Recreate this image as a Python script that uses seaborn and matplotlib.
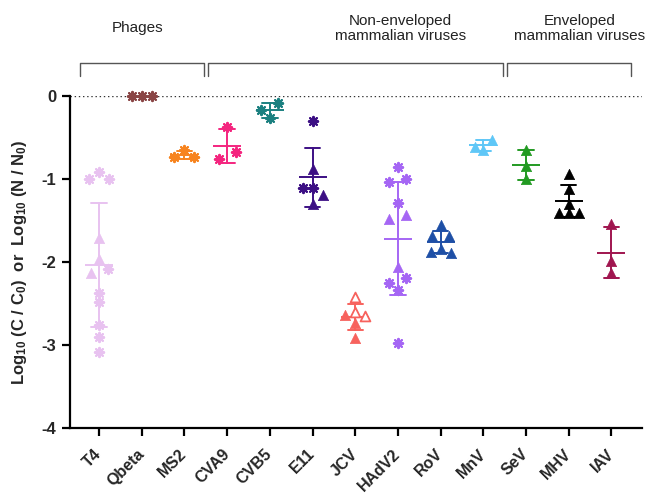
import numpy as np
import pandas as pd
import matplotlib
matplotlib.use('Agg')
import matplotlib.pyplot as plt
import seaborn as sns

viruses = ['T4', 'Qbeta', 'MS2', 'CVA9', 'CVB5', 'E11', 'JCV', 'HAdV2',
           'RoV', 'MnV', 'SeV', 'MHV', 'IAV']
colors = ['#E8C2F0', '#8A4646', '#F7841F', '#F4257F', '#1B8080', '#3C0F84',
          '#F7625D', '#A566F4', '#1E4FA6', '#5FC7F7', '#229A22', '#000000',
          '#A0154F']

# log reduction per replicate
# kind: a = asterisk, t = filled triangle, o = open triangle
t4_vals = [-0.92, -1.01, -1.01, -1.71, -1.97, -2.09, -2.14, -2.38, -2.49, -2.76, -2.91, -3.08]
t4_kind = ['a', 'a', 'a', 't', 't', 'a', 't', 'a', 'a', 'a', 'a', 'a']
qbeta_vals = [-0.01, -0.01, -0.01]
qbeta_kind = ['a', 'a', 'a']
ms2_vals = [-0.66, -0.74, -0.74]
ms2_kind = ['a', 'a', 'a']
cva9_vals = [-0.38, -0.68, -0.76]
cva9_kind = ['a', 'a', 'a']
cvb5_vals = [-0.09, -0.17, -0.27]
cvb5_kind = ['a', 'a', 'a']
e11_vals = [-0.31, -0.88, -1.11, -1.11, -1.20, -1.30]
e11_kind = ['a', 't', 'a', 'a', 't', 't']
jcv_vals = [-2.43, -2.61, -2.64, -2.65, -2.74, -2.92]
jcv_kind = ['o', 'o', 't', 'o', 't', 't']
hadv2_vals = [-0.86, -1.01, -1.04, -1.29, -1.44, -1.48, -2.06, -2.20, -2.25, -2.34, -2.98]
hadv2_kind = ['a', 'a', 'a', 'a', 't', 't', 't', 'a', 'a', 'a', 'a']
rov_vals = [-1.56, -1.69, -1.69, -1.85, -1.88, -1.90]
rov_kind = ['t'] * 6
mnv_vals = [-0.53, -0.62, -0.65]
mnv_kind = ['t'] * 3
sev_vals = [-0.65, -0.85, -1.01]
sev_kind = ['t'] * 3
mhv_vals = [-0.95, -1.12, -1.30, -1.41, -1.41, -1.41]
mhv_kind = ['t'] * 6
iav_vals = [-1.55, -1.99, -2.13]
iav_kind = ['t'] * 3

all_vals = [t4_vals, qbeta_vals, ms2_vals, cva9_vals, cvb5_vals, e11_vals, jcv_vals,
            hadv2_vals, rov_vals, mnv_vals, sev_vals, mhv_vals, iav_vals]
all_kind = [t4_kind, qbeta_kind, ms2_kind, cva9_kind, cvb5_kind, e11_kind, jcv_kind,
            hadv2_kind, rov_kind, mnv_kind, sev_kind, mhv_kind, iav_kind]

groups = ['Phages', 'Non-enveloped\nmammalian viruses', 'Enveloped\nmammalian viruses']
group_first = ['T4', 'CVA9', 'SeV']
group_last = ['MS2', 'MnV', 'IAV']


def row_offsets(vals, tol=0.1, step=0.234):
    """GraphPad-like scatter: points closer than tol share a row, rows are centred"""
    order = np.argsort(vals)[::-1]
    offs = np.zeros(len(vals))
    rows, cur = [], [order[0]]
    for i in order[1:]:
        if vals[cur[0]] - vals[i] < tol:
            cur.append(i)
        else:
            rows.append(cur)
            cur = [i]
    rows.append(cur)
    for r in rows:
        n = len(r)
        if n % 2:
            slots = [0] + [s for k in range(1, n // 2 + 1) for s in (-k, k)]
        elif n == 2:
            slots = [0.85, -0.85]
        else:
            slots = [s for k in range(n // 2) for s in (k + 0.5, -k - 0.5)]
        for i, s in zip(r, slots):
            offs[i] = s * step
    return offs


rows = []
for pos, (v, vals, kinds) in enumerate(zip(viruses, all_vals, all_kind)):
    offs = row_offsets(np.array(vals))
    for val, k, o in zip(vals, kinds, offs):
        rows.append({'virus': v, 'pos': pos, 'x': pos + o, 'value': val, 'kind': k})
df = pd.DataFrame(rows)
palette = dict(zip(viruses, colors))

sns.set_style('ticks')
plt.rcParams['font.family'] = ['Liberation Sans', 'DejaVu Sans']
plt.rcParams['axes.unicode_minus'] = False
plt.rcParams['mathtext.fontset'] = 'custom'
plt.rcParams['mathtext.rm'] = 'Liberation Sans:bold'
plt.rcParams['mathtext.it'] = 'Liberation Sans:bold'
plt.rcParams['mathtext.bf'] = 'Liberation Sans:bold'

fig = plt.figure(figsize=(6.5, 4.99), dpi=100)
ax = fig.add_axes([0.1077, 0.1423, 0.8803, 0.6663])

ax.axhline(0, color='#333333', lw=1.0, ls=(0, (1, 2)), zorder=1)

# mean +/- SD
sns.pointplot(data=df, x='pos', y='value', hue='virus', hue_order=viruses,
              palette=palette, native_scale=True, errorbar='sd', capsize=0.36,
              marker='_', markersize=20, markeredgewidth=1.4, linestyle='none',
              linewidth=1.4, err_kws={'linewidth': 1.4}, legend=False, ax=ax)

# individual replicates
for v in viruses:
    sub = df[df['virus'] == v]
    c = palette[v]
    a = sub[sub['kind'] == 'a']
    t = sub[sub['kind'] == 't']
    o = sub[sub['kind'] == 'o']
    if len(a):
        sns.scatterplot(x=a['x'].values, y=a['value'].values, marker=(8, 2, 0), s=45,
                        color=c, linewidth=1.5, legend=False, clip_on=False, zorder=4, ax=ax)
    if len(t):
        sns.scatterplot(x=t['x'].values, y=t['value'].values, marker='^', s=55,
                        color=c, edgecolor=c, linewidth=0.5, legend=False,
                        clip_on=False, zorder=4, ax=ax)
    if len(o):
        sns.scatterplot(x=o['x'].values, y=o['value'].values, marker='^', s=50,
                        color='white', edgecolor=c, linewidth=1.3, legend=False,
                        clip_on=False, zorder=4, ax=ax)

ax.set_xlim(-0.68, 12.72)
ax.set_ylim(-4, 0)
ax.set_yticks([0, -1, -2, -3, -4])
ax.set_yticklabels(['0', '-1', '-2', '-3', '-4'], fontsize=12, fontweight='bold')
ax.set_xticks(range(len(viruses)))
ax.set_xticklabels(viruses, rotation=45, ha='right', va='center',
                   rotation_mode='anchor', fontsize=11.5, fontweight='bold')
ax.tick_params(axis='both', width=1.6, length=6, color='black', pad=4)
ax.tick_params(axis='x', pad=11)
ax.set_xlabel('')
ax.set_ylabel('Log$_{10}$ (C / C$_0$)  or  Log$_{10}$ (N / N$_0$)',
              fontsize=12, fontweight='bold', labelpad=9)
for side in ['left', 'bottom']:
    ax.spines[side].set_linewidth(1.6)
    ax.spines[side].set_color('black')
sns.despine(ax=ax)

# group brackets above the plot
ix = {v: i for i, v in enumerate(viruses)}
text_x = [0.9, 7.05, 11.25]
for g, f, l, tx in zip(groups, group_first, group_last, text_x):
    x0, x1 = ix[f] - 0.45, ix[l] + 0.45
    ax.plot([x0, x0, x1, x1], [0.24, 0.39, 0.39, 0.24], color='#555555', lw=1.0,
            clip_on=False)
    ax.text(tx, 0.81, g, ha='center', va='center', fontsize=11, color='#222222',
            linespacing=1.1)

fig.savefig('out.png', dpi=100)
